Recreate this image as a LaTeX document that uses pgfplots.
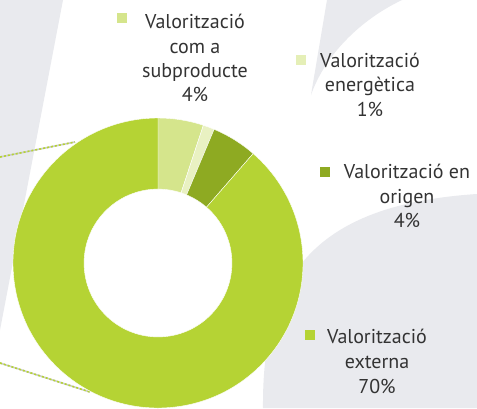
\documentclass[border=0pt]{standalone}
\usepackage{pgfplots}
\pgfplotsset{compat=1.18}
\usepackage{pgfplotstable}
\usepackage{fontspec}
\setmainfont{PT Sans}
\definecolor{bggray}{HTML}{E9EAEE}
\definecolor{cext}{HTML}{B5D334}
\definecolor{csub}{HTML}{D5E58C}
\definecolor{cene}{HTML}{E9F1C2}
\definecolor{corig}{HTML}{8EAA22}
\definecolor{txt}{HTML}{333333}

% share of each kind of valorisation (percent), clockwise from the top
\pgfplotstableread{
name value colour
subproducte 4 csub
energetica 1 cene
origen 4 corig
externa 70 cext
}\donut

\newcommand\lbl[3]{\node[font=\fontsize{20}{24}\selectfont,text=txt,anchor=base] at (#1,#2) {#3};}

\begin{document}
\begin{tikzpicture}
\useasboundingbox (0pt,0pt) rectangle (477pt,-408pt);
\clip (0pt,0pt) rectangle (477pt,-408pt);
\begin{scope}[x=1pt,y=-1pt]
  \fill[white] (0,0) rectangle (477,408);
  % background shapes
  \fill[bggray] (0,0) -- (63,0) -- (0,330) -- cycle;
  \fill[bggray] (327,0) -- (402,0) .. controls (360,20) and (325,55) .. (311,95) -- cycle;
  \fill[bggray] (263,408) .. controls (262,280) and (310,205) .. (477,194) -- (477,408) -- cycle;
  % connector lines to the other chart
  \draw[line width=1.6pt,gray!40] (0,157) -- (75,142);
  \draw[line width=1.6pt,cext,dash pattern=on 2pt off 2pt] (0,157) -- (75,142);
  \draw[line width=1.6pt,gray!40] (0,363) -- (90,392);
  \draw[line width=1.6pt,cext,dash pattern=on 2pt off 2pt] (0,363) -- (90,392);
  % labels
  \fill[csub] (117,13) rectangle (127,23);
  \lbl{195}{28}{Valorització}
  \lbl{195}{53}{com a}
  \lbl{195}{77}{subproducte}
  \lbl{195}{101}{4\%}
  \fill[cene!80!csub] (296,55) rectangle (306,65);
  \lbl{370}{67}{Valorització}
  \lbl{370}{91}{energètica}
  \lbl{370}{116}{1\%}
  \fill[corig] (320,167) rectangle (330,177);
  \lbl{407}{178}{Valorització en}
  \lbl{407}{203}{origen}
  \lbl{407}{227}{4\%}
  \fill[cext] (305,330) rectangle (315,340);
  \lbl{377}{343}{Valorització}
  \lbl{377}{368}{externa}
  \lbl{377}{393}{70\%}
\end{scope}

\begin{axis}[
  at={(158pt,-263pt)},anchor=center,
  hide axis,scale only axis,
  width=290pt,height=290pt,
  xmin=-1,xmax=1,ymin=-1,ymax=1,
  clip=false]
\pgfplotstablegetrowsof{\donut}
\pgfmathtruncatemacro\lastrow{\pgfplotsretval-1}
\def\total{0}
\pgfplotsforeachungrouped \i in {0,...,\lastrow}{%
  \pgfplotstablegetelem{\i}{value}\of\donut
  \pgfmathsetmacro\total{\total+\pgfplotsretval}}
\def\cum{0}
\pgfplotsforeachungrouped \i in {0,...,\lastrow}{%
  \pgfplotstablegetelem{\i}{value}\of\donut \let\segval\pgfplotsretval
  \pgfplotstablegetelem{\i}{colour}\of\donut \let\segcol\pgfplotsretval
  \pgfmathsetmacro\aone{90-360*(\cum/\total)}
  \pgfmathsetmacro\cum{\cum+\segval}
  \pgfmathsetmacro\atwo{90-360*(\cum/\total)}
  \pgfmathsetmacro\xo{cos(\aone)}
  \pgfmathsetmacro\yo{sin(\aone)}
  \pgfmathsetmacro\xin{0.51*cos(\atwo)}
  \pgfmathsetmacro\yin{0.51*sin(\atwo)}
  \edef\seg{\noexpand\fill[\segcol,draw=white,line width=0.4pt]
    (axis cs:\xo,\yo) arc[start angle=\aone,end angle=\atwo,radius=145pt]
    -- (axis cs:\xin,\yin) arc[start angle=\atwo,end angle=\aone,radius=73.95pt] -- cycle;}
  \seg}
\end{axis}
\end{tikzpicture}
\end{document}
